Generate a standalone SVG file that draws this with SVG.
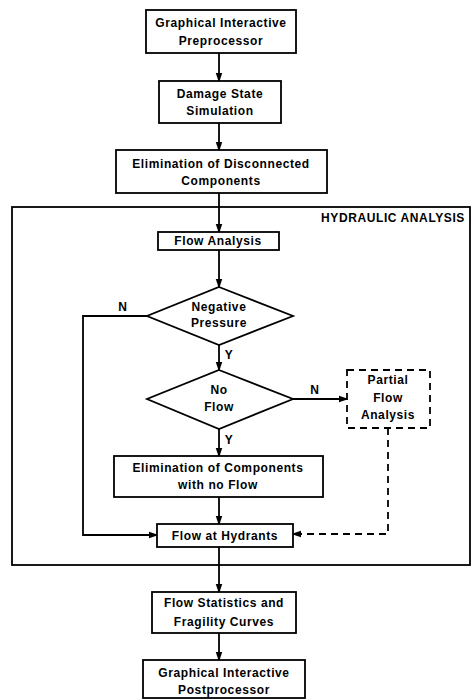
<svg xmlns="http://www.w3.org/2000/svg" width="472" height="699" viewBox="0 0 472 699">
<style>
.box{fill:#fff;stroke:#000;stroke-width:1.8}
.dash{fill:#fff;stroke:#000;stroke-width:1.8;stroke-dasharray:7 5}
.ln{fill:none;stroke:#000;stroke-width:1.8}
.dl{fill:none;stroke:#000;stroke-width:1.8;stroke-dasharray:7 5}
text{font-family:"Liberation Sans",Arial,sans-serif;font-size:12px;font-weight:bold;fill:#000;text-anchor:middle;letter-spacing:0.6px}
</style>
<defs>
<marker id="ah" markerWidth="10" markerHeight="12" refX="10" refY="4" orient="auto" markerUnits="userSpaceOnUse" viewBox="0 0 12 8">
<path d="M0,0 L12,4 L0,8 Z" fill="#000"/>
</marker>
</defs>
<rect id="hydraulic" class="ln" x="12" y="207" width="458" height="358"/>
<text x="393" y="222">HYDRAULIC ANALYSIS</text>
<g id="connectors">
<line class="ln" x1="219" y1="53" x2="219" y2="81" marker-end="url(#ah)"/>
<line class="ln" x1="219" y1="123" x2="219" y2="150" marker-end="url(#ah)"/>
<line class="ln" x1="219" y1="193" x2="219" y2="232" marker-end="url(#ah)"/>
<line class="ln" x1="219" y1="250" x2="219" y2="287" marker-end="url(#ah)"/>
<line class="ln" x1="219" y1="345" x2="219" y2="370" marker-end="url(#ah)"/>
<line class="ln" x1="219" y1="429" x2="219" y2="456" marker-end="url(#ah)"/>
<line class="ln" x1="219" y1="497" x2="219" y2="524" marker-end="url(#ah)"/>
<line class="ln" x1="219" y1="547" x2="219" y2="592" marker-end="url(#ah)"/>
<line class="ln" x1="219" y1="633" x2="219" y2="660" marker-end="url(#ah)"/>
<polyline class="ln" points="147,316 83,316 83,535 157,535" marker-end="url(#ah)"/>
<line class="ln" x1="293" y1="399" x2="347" y2="399" marker-end="url(#ah)"/>
<polyline class="dl" points="388,428 388,534 293,534" marker-end="url(#ah)"/>
<text x="123" y="311">N</text>
<text x="229" y="359">Y</text>
<text x="315" y="394">N</text>
<text x="229" y="444">Y</text>
</g>
<g id="n1"><rect class="box" x="146" y="10" width="150" height="43"/><text x="221" y="27">Graphical Interactive</text><text x="221" y="45">Preprocessor</text></g>
<g id="n2"><rect class="box" x="159" y="81" width="122" height="42"/><text x="220" y="98">Damage State</text><text x="220" y="115">Simulation</text></g>
<g id="n3"><rect class="box" x="116" y="150" width="211" height="43"/><text x="221" y="168">Elimination of Disconnected</text><text x="221" y="185">Components</text></g>
<g id="n4"><rect class="box" x="158" y="232" width="121" height="18"/><text x="218" y="245">Flow Analysis</text></g>
<g id="n5"><polygon class="box" points="219,287 293,316 219,345 147,316"/><text x="219" y="311">Negative</text><text x="219" y="327">Pressure</text></g>
<g id="n6"><polygon class="box" points="219,370 293,399 219,429 147,399"/><text x="219" y="394">No</text><text x="219" y="411">Flow</text></g>
<g id="n7"><rect class="dash" x="347" y="370" width="83" height="58"/><text x="388" y="384">Partial</text><text x="388" y="402">Flow</text><text x="388" y="419">Analysis</text></g>
<g id="n8"><rect class="box" x="114" y="456" width="209" height="41"/><text x="218" y="472">Elimination of Components</text><text x="218" y="489">with no Flow</text></g>
<g id="n9"><rect class="box" x="157" y="524" width="136" height="23"/><text x="225" y="540">Flow at Hydrants</text></g>
<g id="n10"><rect class="box" x="152" y="592" width="144" height="41"/><text x="224" y="607">Flow Statistics and</text><text x="224" y="626">Fragility Curves</text></g>
<g id="n11"><rect class="box" x="143" y="660" width="162" height="38"/><text x="224" y="677">Graphical Interactive</text><text x="224" y="694">Postprocessor</text></g>
</svg>
